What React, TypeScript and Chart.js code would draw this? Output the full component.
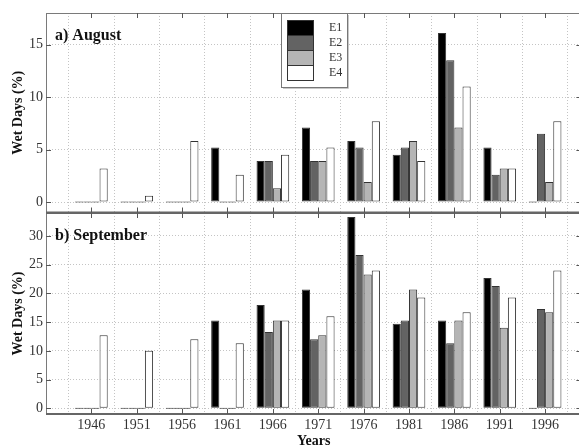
import React, { useEffect, useRef } from "react";
import { Chart, registerables } from "chart.js";

Chart.register(...registerables);

const YEARS = [1946, 1951, 1956, 1961, 1966, 1971, 1976, 1981, 1986, 1991, 1996];
const SERIES = ["E1", "E2", "E3", "E4"];

const AUG_E1 = [0, 0, 0, 5.2, 3.9, 7.1, 5.8, 4.5, 16.1, 5.2, 0];
const AUG_E2 = [0, 0, 0, 0, 3.9, 3.9, 5.2, 5.2, 13.5, 2.6, 6.5];
const AUG_E3 = [0, 0, 0, 0, 1.3, 3.9, 1.9, 5.8, 7.1, 3.2, 1.9];
const AUG_E4 = [3.2, 0.6, 5.8, 2.6, 4.5, 5.2, 7.7, 3.9, 11.0, 3.2, 7.7];

const SEP_E1 = [0, 0, 0, 15.3, 18.0, 20.7, 33.3, 14.7, 15.3, 22.7, 0];
const SEP_E2 = [0, 0, 0, 0, 13.3, 12.0, 26.7, 15.3, 11.3, 21.3, 17.3];
const SEP_E3 = [0, 0, 0, 0, 15.3, 12.7, 23.3, 20.7, 15.3, 14.0, 16.7];
const SEP_E4 = [12.7, 10.0, 12.0, 11.3, 15.3, 16.0, 24.0, 19.3, 16.7, 19.3, 24.0];

const AUG_TICKS = [0, 5, 10, 15];
const SEP_TICKS = [0, 5, 10, 15, 20, 25, 30];

const COLORS = ["#000000", "#636363", "#b5b5b5", "#ffffff"];
const SERIF = '"Liberation Serif", "Times New Roman", serif';

const W = 582;
const H = 448;

function makeDatasets(series: number[][]) {
  return SERIES.map((name, i) => ({
    label: name,
    data: YEARS.map((x, j) => ({ x, y: series[i][j] })),
    backgroundColor: COLORS[i],
    borderColor: "#333333",
    borderWidth: 1,
    borderSkipped: false as const,
    minBarLength: 1,
    categoryPercentage: 0.72,
    barPercentage: 1,
  }));
}

function panelPlugin(label: string, isTop: boolean) {
  return {
    id: "panel" + (isTop ? "Top" : "Bottom"),
    afterDraw(chart: any) {
      const { ctx, chartArea: a, scales } = chart;
      const x = scales.x;
      const y = scales.y;
      ctx.save();
      // frame
      ctx.strokeStyle = "#7a7a7a";
      ctx.lineWidth = 1;
      ctx.beginPath();
      ctx.moveTo(a.left + 0.5, a.top);
      ctx.lineTo(a.left + 0.5, a.bottom);
      ctx.moveTo(a.right - 0.5, a.top);
      ctx.lineTo(a.right - 0.5, a.bottom);
      if (isTop) {
        ctx.moveTo(a.left, a.top + 0.5);
        ctx.lineTo(a.right, a.top + 0.5);
      }
      ctx.stroke();
      ctx.strokeStyle = "#666666";
      ctx.lineWidth = 2;
      ctx.beginPath();
      ctx.moveTo(a.left, a.bottom);
      ctx.lineTo(a.right, a.bottom);
      if (!isTop) {
        ctx.moveTo(a.left, a.top);
        ctx.lineTo(a.right, a.top);
      }
      ctx.stroke();
      // inward ticks
      ctx.strokeStyle = "#555555";
      ctx.lineWidth = 1;
      ctx.beginPath();
      for (const t of x.ticks) {
        const px = Math.round(x.getPixelForValue(t.value)) + 0.5;
        ctx.moveTo(px, a.bottom);
        ctx.lineTo(px, a.bottom - 5);
        ctx.moveTo(px, a.top);
        ctx.lineTo(px, a.top + 5);
      }
      for (const t of y.ticks) {
        const py = Math.round(y.getPixelForValue(t.value)) + 0.5;
        ctx.moveTo(a.left, py);
        ctx.lineTo(a.left + 5, py);
        ctx.moveTo(a.right, py);
        ctx.lineTo(a.right - 5, py);
      }
      ctx.stroke();
      // panel label
      ctx.fillStyle = "#111111";
      ctx.font = "bold 16px " + SERIF;
      ctx.textAlign = "left";
      ctx.textBaseline = "alphabetic";
      ctx.fillText(label, a.left + 9, a.top + 27);
      // legend
      if (isTop) {
        const lx = a.left + 235;
        const ly = a.top;
        const lw = 66;
        const lh = 74;
        ctx.fillStyle = "#ffffff";
        ctx.fillRect(lx, ly, lw, lh);
        ctx.strokeStyle = "#c8c8c8";
        ctx.lineWidth = 1;
        ctx.beginPath();
        ctx.moveTo(lx + lw + 1.5, ly + 2);
        ctx.lineTo(lx + lw + 1.5, ly + lh + 1.5);
        ctx.lineTo(lx + 2, ly + lh + 1.5);
        ctx.stroke();
        ctx.strokeStyle = "#777777";
        ctx.strokeRect(lx + 0.5, ly + 0.5, lw, lh);
        SERIES.forEach((name, i) => {
          const sy = ly + 7 + i * 15;
          ctx.fillStyle = COLORS[i];
          ctx.fillRect(lx + 7, sy, 26, 15);
          ctx.strokeStyle = "#333333";
          ctx.strokeRect(lx + 6.5, sy + 0.5, 26, 15);
          ctx.fillStyle = "#333333";
          ctx.font = "12px " + SERIF;
          ctx.textBaseline = "middle";
          ctx.fillText(name, lx + 48, sy + 8);
        });
      }
      ctx.restore();
    },
  };
}

function baseOptions(isTop: boolean, yMax: number, yTicks: number[]) {
  const tickFont = { family: SERIF, size: 14 };
  return {
    responsive: false,
    animation: false as const,
    devicePixelRatio: 1,
    layout: {
      padding: isTop
        ? { top: 13, bottom: 235.5, left: 0, right: 0.6 }
        : { top: 213, bottom: 0, left: 0, right: 0.6 },
    },
    plugins: {
      legend: { display: false },
      tooltip: { enabled: false },
    },
    scales: {
      x: {
        type: "linear" as const,
        min: 1941,
        max: 2000,
        offset: false,
        afterBuildTicks: (s: any) => {
          s.ticks = YEARS.map((v) => ({ value: v }));
        },
        ticks: {
          display: !isTop,
          autoSkip: false,
          maxRotation: 0,
          padding: 3,
          font: tickFont,
          color: "#333333",
          callback: (v: any) => String(v),
        },
        grid: { offset: true, drawTicks: false, color: "#c4c4c4", lineWidth: 1 },
        border: { display: false, dash: [1, 2] },
        title: {
          display: !isTop,
          text: "Years",
          color: "#111111",
          font: { family: SERIF, size: 14, weight: "bold" as const, lineHeight: 1 },
          padding: { top: 0, bottom: 0 },
        },
        afterFit: (s: any) => {
          s.height = isTop ? 0 : 34;
        },
      },
      y: {
        min: -1,
        max: yMax,
        afterBuildTicks: (s: any) => {
          s.ticks = yTicks.map((v) => ({ value: v }));
        },
        ticks: { font: tickFont, color: "#333333", padding: 3 },
        grid: { drawTicks: false, color: "#c4c4c4", lineWidth: 1 },
        border: { display: false, dash: [1, 2] },
        title: {
          display: true,
          text: "Wet Days (%)",
          color: "#111111",
          font: { family: SERIF, size: 14, weight: "bold" as const },
          padding: { top: 10, bottom: 0 },
        },
        afterFit: (s: any) => {
          s.width = 46;
        },
      },
    },
  };
}

export default function App() {
  const topRef = useRef<HTMLCanvasElement | null>(null);
  const botRef = useRef<HTMLCanvasElement | null>(null);

  useEffect(() => {
    Chart.defaults.font.family = SERIF;
    const top = new Chart(topRef.current as HTMLCanvasElement, {
      type: "bar",
      data: { datasets: makeDatasets([AUG_E1, AUG_E2, AUG_E3, AUG_E4]) as any },
      options: baseOptions(true, 18, AUG_TICKS) as any,
      plugins: [panelPlugin("a) August", true)],
    });
    const bot = new Chart(botRef.current as HTMLCanvasElement, {
      type: "bar",
      data: { datasets: makeDatasets([SEP_E1, SEP_E2, SEP_E3, SEP_E4]) as any },
      options: baseOptions(false, 34, SEP_TICKS) as any,
      plugins: [panelPlugin("b) September", false)],
    });
    return () => {
      top.destroy();
      bot.destroy();
    };
  }, []);

  const canvasStyle: React.CSSProperties = {
    position: "absolute",
    left: 0,
    top: 0,
    width: W,
    height: H,
    display: "block",
  };

  return (
    <div
      style={{
        position: "fixed",
        left: 0,
        top: 0,
        width: 579,
        height: 448,
        overflow: "hidden",
        background: "#ffffff",
      }}
    >
      <canvas ref={botRef} width={W} height={H} style={canvasStyle} />
      <canvas ref={topRef} width={W} height={H} style={canvasStyle} />
    </div>
  );
}
